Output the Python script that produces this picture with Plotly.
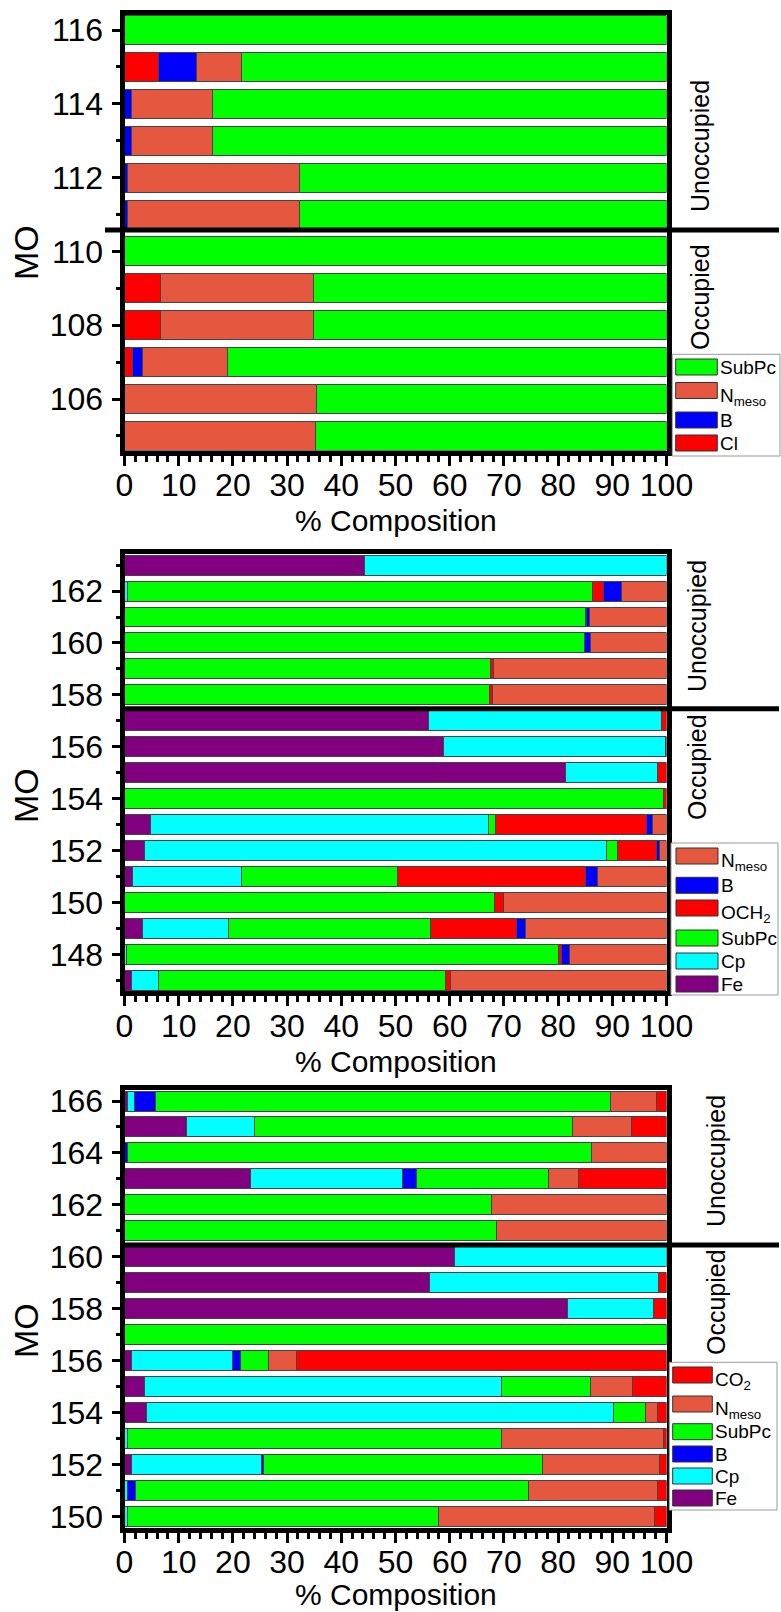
import plotly.graph_objects as go

W, H = 781, 1612

# ---------------- DATA ----------------
# Panel 1 (MO 105-116), stack order: Cl, B, Nmeso, SubPc
p1_mo = [105, 106, 107, 108, 109, 110, 111, 112, 113, 114, 115, 116]
p1_cl = [0, 0, 1.4, 6.7, 6.7, 0, 0, 0, 0, 0, 6.3, 0]
p1_b = [0, 0, 2.0, 0, 0, 0, 0.5, 0.5, 1.3, 1.3, 7.0, 0]
p1_nmeso = [35.3, 35.4, 15.6, 28.1, 28.1, 0, 31.8, 31.8, 15.0, 15.0, 8.3, 0]
p1_subpc = [64.7, 64.6, 81.0, 65.2, 65.2, 100, 67.7, 67.7, 83.7, 83.7, 78.4, 100]

# Panel 2 (MO 147-163), stack order: Fe, Cp, SubPc, OCH2, B, Nmeso
p2_mo = list(range(147, 164))
p2_fe = [1.3, 0, 3.3, 0, 1.5, 3.7, 4.8, 0, 81.4, 58.8, 56.1, 0, 0, 0, 0, 0, 44.2]
p2_cp = [5.0, 0.3, 15.9, 0, 20.1, 85.2, 62.3, 0, 16.9, 41.0, 43.0, 0, 0, 0, 0, 0.5, 55.8]
p2_subpc = [53.0, 79.7, 37.2, 68.2, 28.7, 2.0, 1.3, 99.4, 0, 0, 0, 67.4, 67.5, 84.8, 85.0, 85.9, 0]
p2_och2 = [0.8, 0.6, 16.0, 1.7, 34.8, 7.3, 28.0, 0.6, 1.7, 0.2, 0.9, 0.5, 0.5, 0, 0.2, 2.0, 0]
p2_b = [0, 1.5, 1.6, 0, 2.1, 0.5, 1.1, 0, 0, 0, 0, 0, 0, 1.2, 0.6, 3.3, 0]
p2_nmeso = [39.9, 17.9, 26.0, 30.1, 12.8, 1.3, 2.5, 0, 0, 0, 0, 32.1, 32.0, 14.0, 14.2, 8.3, 0]

# Panel 3 (MO 150-166), stack order: Fe, Cp, B, SubPc, Nmeso, CO2
p3_mo = list(range(150, 167))
p3_fe = [0, 0, 1.3, 0, 4.0, 3.7, 1.3, 0, 81.7, 56.2, 60.9, 0, 0, 23.3, 0, 11.4, 0.5]
p3_cp = [0.5, 0.6, 24.0, 0.6, 86.2, 65.9, 18.7, 0, 15.9, 42.4, 39.1, 0, 0, 28.0, 0, 12.6, 1.3]
p3_b = [0, 1.4, 0.4, 0, 0, 0, 1.4, 0, 0, 0, 0, 0, 0, 2.6, 0.6, 0, 4.0]
p3_subpc = [57.5, 72.5, 51.4, 68.9, 5.9, 16.4, 5.2, 100, 0, 0, 0, 68.6, 67.8, 24.4, 85.6, 58.6, 83.9]
p3_nmeso = [39.7, 23.8, 21.6, 30.0, 2.3, 7.7, 5.1, 0, 0, 0, 0, 31.4, 32.2, 5.4, 13.8, 10.9, 8.5]
p3_co2 = [2.3, 1.7, 1.3, 0.5, 1.6, 6.3, 68.3, 0, 2.4, 1.4, 0, 0, 0, 16.3, 0, 6.5, 1.8]

x_ticks = [0, 10, 20, 30, 40, 50, 60, 70, 80, 90, 100]

# ---------------- STYLE ----------------
C_SUBPC = "#00FF00"
C_NMESO = "#E5583F"
C_B = "#0000FF"
C_RED = "#FF0000"
C_CP = "#00FFFF"
C_FE = "#800080"
FONT = "Liberation Sans, Arial, sans-serif"


def X(px):
    return px / W


def Y(py):
    return 1 - py / H


panels = [
    dict(mo=p1_mo, series=[("Cl", p1_cl, C_RED), ("B", p1_b, C_B), ("N<sub>meso</sub>", p1_nmeso, C_NMESO),
                           ("SubPc", p1_subpc, C_SUBPC)],
         yrange=[104.6, 116.42], px=[14.5, 450.7], width=0.786, sep=110.58, sep_x0=105,
         occ_x=700, unocc_y=146, occ_y=297, mo_y=253, title_y=520.7,
         legend_box=[672.3, 354.3, 780, 456],
         legend=[("SubPc", C_SUBPC, 367), ("N<sub>meso</sub>", C_NMESO, 390.5), ("B", C_B, 420), ("Cl", C_RED, 443)],
         sw=[675.7, 717.3]),
    dict(mo=p2_mo, series=[("Fe", p2_fe, C_FE), ("Cp", p2_cp, C_CP), ("SubPc", p2_subpc, C_SUBPC),
                           ("OCH<sub>2</sub>", p2_och2, C_RED), ("B", p2_b, C_B), ("N<sub>meso</sub>", p2_nmeso, C_NMESO)],
         yrange=[146.58, 163.42], px=[554.2, 991.2], width=0.77, sep=157.46, sep_x0=121,
         occ_x=697, unocc_y=626, occ_y=767, mo_y=796, title_y=1061.2,
         legend_box=[671, 843, 778, 995],
         legend=[("N<sub>meso</sub>", C_NMESO, 856), ("B", C_B, 885.3), ("OCH<sub>2</sub>", C_RED, 908),
                 ("SubPc", C_SUBPC, 938), ("Cp", C_CP, 961), ("Fe", C_FE, 984)],
         sw=[676, 718]),
    dict(mo=p3_mo, series=[("Fe", p3_fe, C_FE), ("Cp", p3_cp, C_CP), ("B", p3_b, C_B), ("SubPc", p3_subpc, C_SUBPC),
                           ("N<sub>meso</sub>", p3_nmeso, C_NMESO), ("CO<sub>2</sub>", p3_co2, C_RED)],
         yrange=[149.58, 166.42], px=[1090.1, 1527.6], width=0.77, sep=160.46, sep_x0=121,
         occ_x=716, unocc_y=1161, occ_y=1302, mo_y=1331, title_y=1594,
         legend_box=[669.3, 1362.3, 777, 1510],
         legend=[("CO<sub>2</sub>", C_RED, 1375), ("N<sub>meso</sub>", C_NMESO, 1404), ("SubPc", C_SUBPC, 1431.7),
                 ("B", C_B, 1454), ("Cp", C_CP, 1476), ("Fe", C_FE, 1498)],
         sw=[672.7, 712.3]),
]

fig = go.Figure()
shapes = []
annotations = []
layout = {}
x_dom = [X(124.5), X(666.5)]

for i, p in enumerate(panels):
    n = "" if i == 0 else str(i + 1)
    xa, ya = "x" + n, "y" + n
    for name, vals, col in p["series"]:
        fig.add_trace(go.Bar(
            y=p["mo"], x=[v if v else None for v in vals], orientation="h", name=name,
            marker=dict(color=col, line=dict(color="#444", width=1)),
            width=p["width"], xaxis=xa, yaxis=ya, showlegend=False,
        ))
    layout["xaxis" + n] = dict(
        domain=x_dom, range=[0, 100], anchor=ya, tickvals=x_ticks, ticks="outside",
        ticklen=10, tickwidth=3, tickcolor="black", showline=True, linewidth=5, linecolor="black",
        mirror=True, showgrid=False, zeroline=False, fixedrange=True, automargin=False,
        ticklabelstandoff=-8,
        tickfont=dict(size=32, family=FONT, color="black"),
        minor=dict(dtick=2, ticks="outside", ticklen=6, tickwidth=3, tickcolor="black", showgrid=False),
    )
    layout["yaxis" + n] = dict(
        domain=[Y(p["px"][1]), Y(p["px"][0])], range=p["yrange"], anchor=xa, dtick=2, tick0=0,
        ticks="outside", ticklen=8, tickwidth=3, tickcolor="black", showline=True, linewidth=5,
        linecolor="black", mirror=True, showgrid=False, zeroline=False, fixedrange=True, automargin=False,
        ticklabelstandoff=2,
        tickfont=dict(size=32, family=FONT, color="black"),
        minor=dict(dtick=1, ticks="outside", ticklen=4, tickwidth=3, tickcolor="black", showgrid=False),
    )
    # separator between unoccupied / occupied
    shapes.append(dict(type="line", xref="paper", yref=ya, x0=X(p["sep_x0"]), x1=X(779),
                       y0=p["sep"], y1=p["sep"], line=dict(color="black", width=5)))
    # side labels
    annotations.append(dict(text="Unoccupied", x=X(p["occ_x"]), y=Y(p["unocc_y"]), xref="paper", yref="paper",
                            textangle=-90, showarrow=False, font=dict(size=25, family=FONT, color="black"),
                            xanchor="center", yanchor="middle"))
    annotations.append(dict(text="Occupied", x=X(p["occ_x"]), y=Y(p["occ_y"]), xref="paper", yref="paper",
                            textangle=-90, showarrow=False, font=dict(size=25, family=FONT, color="black"),
                            xanchor="center", yanchor="middle"))
    annotations.append(dict(text="MO", x=X(26), y=Y(p["mo_y"]), xref="paper", yref="paper",
                            textangle=-90, showarrow=False, font=dict(size=34, family=FONT, color="black"),
                            xanchor="center", yanchor="middle"))
    annotations.append(dict(text="% Composition", x=X(395.5), y=Y(p["title_y"]), xref="paper", yref="paper",
                            showarrow=False, font=dict(size=30, family=FONT, color="black"),
                            xanchor="center", yanchor="middle", borderpad=0))
    # legend
    bx0, by0, bx1, by1 = p["legend_box"]
    shapes.append(dict(type="rect", xref="paper", yref="paper", x0=X(bx0), x1=X(bx1), y0=Y(by1), y1=Y(by0),
                       line=dict(color="#999", width=1), fillcolor="white"))
    for label, col, cy in p["legend"]:
        shapes.append(dict(type="rect", xref="paper", yref="paper", x0=X(p["sw"][0]), x1=X(p["sw"][1]),
                           y0=Y(cy + 8), y1=Y(cy - 8), line=dict(color="#333", width=1), fillcolor=col))
        dy = 6 if "<sub>" in label else 0
        annotations.append(dict(text=label, x=X(p["sw"][1] + 2), y=Y(cy + dy), xref="paper", yref="paper",
                                showarrow=False, font=dict(size=19, family=FONT, color="black"),
                                xanchor="left", yanchor="middle", borderpad=0))

fig.update_layout(
    width=W, height=H, margin=dict(l=0, r=0, t=0, b=0, autoexpand=False),
    paper_bgcolor="white", plot_bgcolor="white", barmode="stack",
    showlegend=False, shapes=shapes, annotations=annotations,
    font=dict(family=FONT, color="black"),
    **layout,
)

fig.write_html("out.html")
